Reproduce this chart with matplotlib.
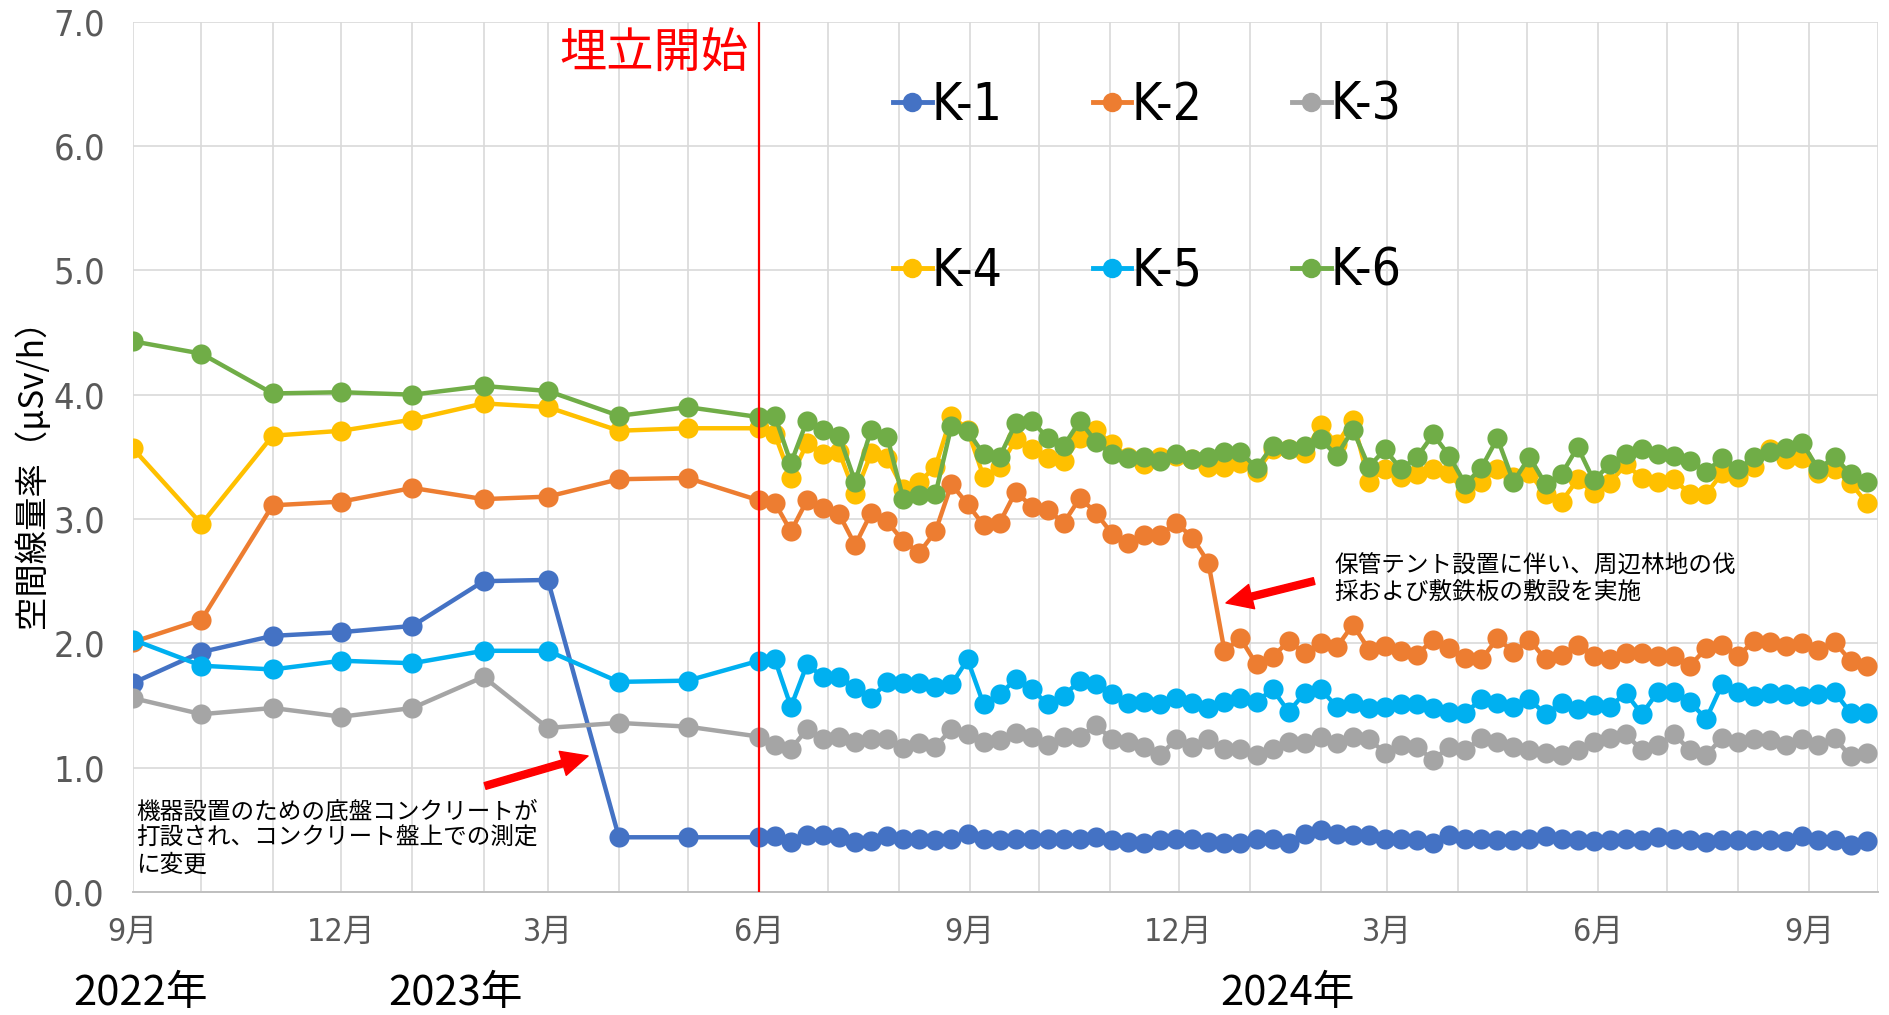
import pandas as pd
import matplotlib
matplotlib.use("Agg")
import matplotlib.pyplot as plt
import matplotlib.dates as mdates
from matplotlib import font_manager as fm

# ---- data -------------------------------------------------------------
# monthly readings Sep 2022 - Jun 2023, then weekly from 8 Jun 2023
monthly_dates = pd.date_range("2022-09-01", periods=10, freq="MS")
weekly_dates = pd.date_range("2023-06-08", periods=69, freq="7D")

k1_monthly = [1.68, 1.93, 2.06, 2.09, 2.14, 2.50, 2.51, 0.44, 0.44, 0.44]
k2_monthly = [2.01, 2.19, 3.11, 3.14, 3.25, 3.16, 3.18, 3.32, 3.33, 3.15]
k3_monthly = [1.56, 1.43, 1.48, 1.41, 1.48, 1.73, 1.32, 1.36, 1.33, 1.25]
k4_monthly = [3.57, 2.96, 3.67, 3.71, 3.80, 3.93, 3.90, 3.71, 3.73, 3.73]
k5_monthly = [2.03, 1.82, 1.79, 1.86, 1.84, 1.94, 1.94, 1.69, 1.70, 1.86]
k6_monthly = [4.43, 4.33, 4.01, 4.02, 4.00, 4.07, 4.03, 3.83, 3.90, 3.82]

k1_weekly = [0.45, 0.40, 0.46, 0.46, 0.44, 0.40, 0.41, 0.45, 0.43, 0.43, 0.42, 0.43, 0.47, 0.43, 0.42, 0.43, 0.43,
             0.43, 0.43, 0.43, 0.44, 0.42, 0.40, 0.39, 0.42, 0.43, 0.43, 0.40, 0.39, 0.39, 0.43, 0.43, 0.39, 0.47,
             0.50, 0.47, 0.46, 0.46, 0.43, 0.43, 0.42, 0.39, 0.46, 0.43, 0.43, 0.42, 0.42, 0.43, 0.45, 0.43, 0.42,
             0.41, 0.42, 0.43, 0.42, 0.44, 0.43, 0.42, 0.40, 0.42, 0.42, 0.42, 0.42, 0.41, 0.45, 0.42, 0.42, 0.38, 0.41]
k2_weekly = [3.13, 2.90, 3.15, 3.09, 3.04, 2.79, 3.05, 2.98, 2.82, 2.73, 2.90, 3.28, 3.12, 2.95, 2.97, 3.22, 3.10,
             3.07, 2.97, 3.17, 3.05, 2.88, 2.81, 2.87, 2.87, 2.97, 2.85, 2.65, 1.94, 2.04, 1.83, 1.89, 2.02, 1.92,
             2.00, 1.97, 2.15, 1.95, 1.98, 1.94, 1.91, 2.03, 1.96, 1.88, 1.87, 2.04, 1.93, 2.03, 1.87, 1.91, 1.99,
             1.90, 1.87, 1.92, 1.92, 1.90, 1.90, 1.82, 1.96, 1.99, 1.90, 2.02, 2.01, 1.98, 2.00, 1.95, 2.01, 1.86, 1.82]
k3_weekly = [1.18, 1.15, 1.31, 1.23, 1.25, 1.21, 1.23, 1.23, 1.16, 1.20, 1.17, 1.31, 1.27, 1.21, 1.22, 1.28, 1.25,
             1.18, 1.25, 1.25, 1.34, 1.23, 1.21, 1.17, 1.10, 1.23, 1.17, 1.23, 1.15, 1.15, 1.10, 1.15, 1.21, 1.20,
             1.25, 1.20, 1.25, 1.23, 1.12, 1.18, 1.17, 1.06, 1.17, 1.14, 1.24, 1.21, 1.17, 1.14, 1.12, 1.10, 1.14,
             1.21, 1.24, 1.27, 1.14, 1.18, 1.27, 1.14, 1.10, 1.24, 1.21, 1.23, 1.22, 1.18, 1.23, 1.18, 1.24, 1.09, 1.12]
k4_weekly = [3.68, 3.33, 3.61, 3.52, 3.54, 3.20, 3.53, 3.49, 3.24, 3.30, 3.42, 3.83, 3.72, 3.34, 3.42, 3.64, 3.56,
             3.49, 3.47, 3.65, 3.72, 3.60, 3.50, 3.44, 3.50, 3.51, 3.48, 3.42, 3.42, 3.45, 3.38, 3.56, 3.56, 3.53,
             3.76, 3.60, 3.80, 3.30, 3.40, 3.34, 3.36, 3.40, 3.37, 3.21, 3.30, 3.40, 3.34, 3.37, 3.20, 3.14, 3.32,
             3.21, 3.29, 3.44, 3.33, 3.30, 3.32, 3.20, 3.20, 3.37, 3.34, 3.42, 3.56, 3.48, 3.49, 3.37, 3.40, 3.29, 3.13]
k5_weekly = [1.87, 1.49, 1.83, 1.73, 1.73, 1.64, 1.56, 1.69, 1.68, 1.68, 1.65, 1.67, 1.87, 1.51, 1.59, 1.71, 1.63,
             1.51, 1.58, 1.70, 1.67, 1.59, 1.52, 1.53, 1.51, 1.56, 1.52, 1.48, 1.53, 1.56, 1.53, 1.63, 1.45, 1.60,
             1.63, 1.49, 1.52, 1.48, 1.49, 1.51, 1.51, 1.48, 1.45, 1.44, 1.55, 1.52, 1.49, 1.55, 1.43, 1.52, 1.47,
             1.50, 1.49, 1.60, 1.43, 1.61, 1.61, 1.53, 1.39, 1.67, 1.61, 1.58, 1.60, 1.59, 1.58, 1.59, 1.61, 1.44, 1.44]
k6_weekly = [3.83, 3.45, 3.79, 3.72, 3.67, 3.30, 3.72, 3.66, 3.16, 3.19, 3.20, 3.75, 3.71, 3.52, 3.50, 3.77, 3.79,
             3.65, 3.59, 3.79, 3.62, 3.52, 3.49, 3.50, 3.47, 3.52, 3.48, 3.50, 3.54, 3.54, 3.41, 3.59, 3.56, 3.59,
             3.64, 3.51, 3.72, 3.42, 3.56, 3.40, 3.50, 3.68, 3.51, 3.28, 3.41, 3.65, 3.30, 3.50, 3.28, 3.36, 3.58,
             3.31, 3.44, 3.52, 3.56, 3.52, 3.51, 3.47, 3.38, 3.49, 3.40, 3.50, 3.54, 3.57, 3.61, 3.40, 3.50, 3.36, 3.30]

series_names = ["K-1", "K-2", "K-3", "K-4", "K-5", "K-6"]
series_colors = ["#4472C4", "#ED7D31", "#A5A5A5", "#FFC000", "#00B0F0", "#70AD47"]
series_monthly = [k1_monthly, k2_monthly, k3_monthly, k4_monthly, k5_monthly, k6_monthly]
series_weekly = [k1_weekly, k2_weekly, k3_weekly, k4_weekly, k5_weekly, k6_weekly]

landfill_start = pd.Timestamp("2023-06-01")
year_labels = ["2022年", "2023年", "2024年"]
year_label_x = [0.0746, 0.2411, 0.681]   # figure fraction, centres

note_tent = "保管テント設置に伴い、周辺林地の伐\n採および敷鉄板の敷設を実施"
note_concrete = "機器設置のための底盤コンクリートが\n打設され、コンクリート盤上での測定\nに変更"

# ---- fonts ------------------------------------------------------------
available = {f.name for f in fm.fontManager.ttflist}
JP = "Noto Sans CJK JP"
if "Liberation Sans Narrow" in available:
    NARROW = dict(family=["Liberation Sans Narrow", JP], fontstretch="normal")
else:
    NARROW = dict(family=["DejaVu Sans", JP], fontstretch="condensed")
plt.rcParams["font.family"] = [JP, "DejaVu Sans"]

# ---- figure -----------------------------------------------------------
fig = plt.figure(figsize=(18.9, 10.15), dpi=100)
ax = fig.add_axes([0.0702, 0.1212, 0.9235, 0.8574])

lines = []
for name, color, m, w in zip(series_names, series_colors, series_monthly, series_weekly):
    dates = list(monthly_dates) + list(weekly_dates)
    vals = list(m) + list(w)
    (ln,) = ax.plot(dates, vals, color=color, lw=3.2, marker="o", ms=14.5,
                    markeredgewidth=0, label=name, zorder=3)
    lines.append(ln)

ax.axvline(landfill_start, color="red", lw=1.6, zorder=4)

ax.set_xlim(pd.Timestamp("2022-09-01"), pd.Timestamp("2024-10-01"))
ax.set_ylim(0, 7)
ax.set_yticks(range(0, 8))
ax.yaxis.set_major_formatter(plt.FuncFormatter(lambda v, p: f"{v:.1f}"))

ax.xaxis.set_major_locator(mdates.MonthLocator(bymonth=[3, 6, 9, 12]))
ax.xaxis.set_minor_locator(mdates.MonthLocator())
ax.xaxis.set_major_formatter(plt.FuncFormatter(lambda d, p: f"{mdates.num2date(d).month}月"))

grid_c = "#D9D9D9"
ax.grid(True, which="both", axis="x", color=grid_c, lw=1.2, zorder=0)
ax.grid(True, which="major", axis="y", color=grid_c, lw=1.2, zorder=0)
ax.set_axisbelow(True)
for side in ["top", "right", "left"]:
    ax.spines[side].set_visible(False)
ax.spines["bottom"].set_color("#BFBFBF")
ax.spines["bottom"].set_linewidth(1.4)

ax.tick_params(axis="both", which="both", length=0)
ax.tick_params(axis="y", pad=20)
ax.tick_params(axis="x", pad=18)
for t in ax.get_yticklabels():
    t.set_fontsize(26)
    t.set_color("#595959")
    t.set_family(NARROW["family"])
    t.set_fontstretch(NARROW["fontstretch"])
for t in ax.get_xticklabels():
    t.set_fontsize(23)
    t.set_color("#595959")
    t.set_family(NARROW["family"])
    t.set_fontstretch(NARROW["fontstretch"])

fig.text(32.5 / 1890, 1 - 465 / 1015, "空間線量率（μSv/h）", rotation=90,
         ha="center", va="center", fontsize=24, color="#000000")

for lab, x in zip(year_labels, year_label_x):
    fig.text(x, 1 - 993 / 1015, lab, ha="center", va="center", fontsize=30, color="black")

# landfill start label
ax.annotate("埋立開始", xy=(landfill_start, 6.74), xytext=(-10, 0),
            textcoords="offset pixels", ha="right", va="center",
            fontsize=34, color="red")

# legend: two rows of three
order = [0, 3, 1, 4, 2, 5]
leg = ax.legend([lines[i] for i in order], [series_names[i] for i in order],
                ncol=3, loc="upper left", bbox_to_anchor=(0.4357, 0.932),
                frameon=False, borderpad=0, borderaxespad=0,
                handlelength=0.75, handletextpad=0.0, columnspacing=1.75,
                labelspacing=2.25,
                prop=fm.FontProperties(family=NARROW["family"], stretch=NARROW["fontstretch"], size=37))
for h in leg.legend_handles:
    h.set_markersize(14)
    h.set_linewidth(3.5)

# annotations
ax.text(0.6883, 0.3597, note_tent, transform=ax.transAxes, ha="left", va="center",
        fontsize=17, color="black", linespacing=1.25)
ax.annotate("", xy=(0.6264, 0.3321), xytext=(0.6769, 0.3573),
            xycoords="axes fraction", textcoords="axes fraction",
            arrowprops=dict(color="red", width=5, headwidth=18, headlength=19, shrink=0))

ax.text(0.002, 0.0615, note_concrete, transform=ax.transAxes, ha="left", va="center",
        fontsize=17, color="black", linespacing=1.2)
ax.annotate("", xy=(0.2609, 0.1563), xytext=(0.2019, 0.1218),
            xycoords="axes fraction", textcoords="axes fraction",
            arrowprops=dict(color="red", width=5, headwidth=18, headlength=19, shrink=0))

fig.savefig("out.png", dpi=100, facecolor="white")
